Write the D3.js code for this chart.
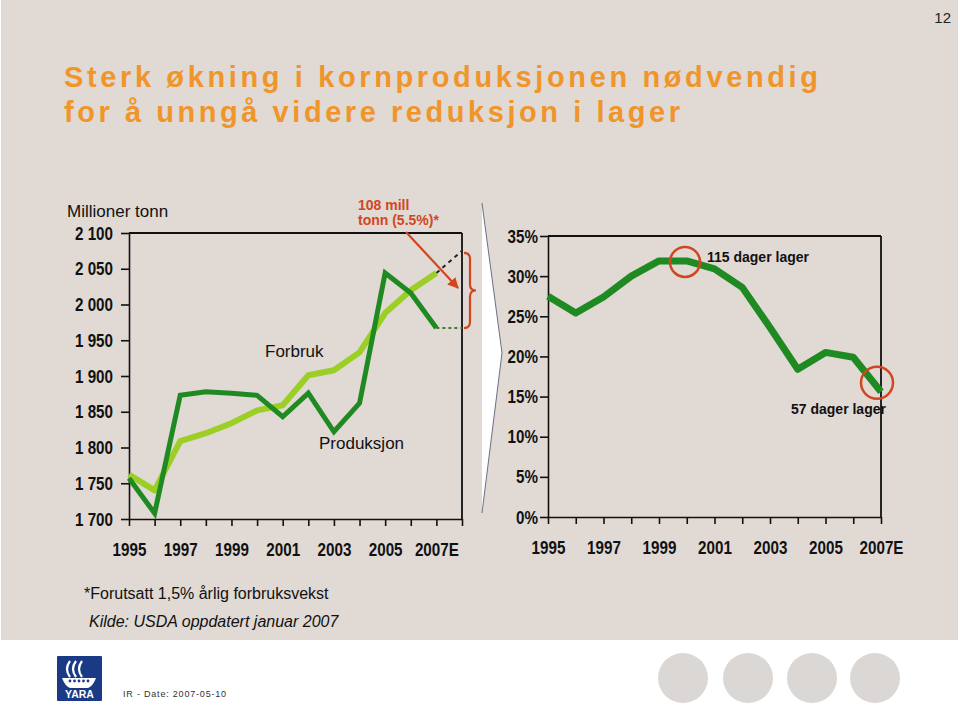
<!DOCTYPE html>
<html><head><meta charset="utf-8">
<script src="https://cdn.jsdelivr.net/npm/d3@7"></script>
<style>
html,body{margin:0;padding:0;background:#fff;}
svg{display:block;}
.ax text{font-family:"Liberation Sans",Arial,sans-serif;font-weight:bold;font-size:19px;fill:#111;}
.ax line,.ax path{stroke:#111;stroke-width:1.6;}
</style></head><body>
<script>
// ---------- DATA ----------
const years = [1995,1996,1997,1998,1999,2000,2001,2002,2003,2004,2005,2006,2007];
const yearLabels = ["1995","1997","1999","2001","2003","2005","2007E"];
const labelYears = [1995,1997,1999,2001,2003,2005,2007];
const production  = [1757,1708,1873,1878,1876,1873,1843,1876,1822,1862,2044,2016,1967];
const consumption = [1762,1740,1809,1820,1834,1852,1859,1901,1908,1933,1988,2020,2044];
const projYears = [2007,2008];
const consumptionProj = [2044,2075];
const productionProj  = [1967,1967];
const leftTicks = [1700,1750,1800,1850,1900,1950,2000,2050,2100];
const leftTickLabels = ["1 700","1 750","1 800","1 850","1 900","1 950","2 000","2 050","2 100"];
const stockRatio = [27.5,25.4,27.4,30.0,31.9,31.9,30.9,28.6,23.6,18.4,20.5,19.9,15.6];
const rightTicks = [0,5,10,15,20,25,30,35];
const rightTickLabels = ["0%","5%","10%","15%","20%","25%","30%","35%"];

const W=960,H=718;
const svg=d3.select("body").append("svg").attr("width",W).attr("height",H);

// condense axis labels (narrow bold look)
function condense(sel){
  sel.selectAll(".tick text").each(function(){
    const t=d3.select(this); if(!t.text()) return;
    const w=this.getComputedTextLength();
    t.attr("textLength",w*0.8).attr("lengthAdjust","spacingAndGlyphs");
  });
}

// background
svg.append("rect").attr("x",0).attr("y",0).attr("width",W).attr("height",H).attr("fill","#fff");
svg.append("rect").attr("x",1).attr("y",0).attr("width",957).attr("height",640).attr("fill","#e0d9d4");

// page number
svg.append("text").attr("x",951).attr("y",23).attr("text-anchor","end")
  .style("font-family","Liberation Sans,Arial,sans-serif").style("font-size","15px").attr("fill","#222").text("12");

// title
const tStyle = s=>s.style("font-family","Liberation Sans,Arial,sans-serif").style("font-weight","bold")
  .style("font-size","29px").attr("fill","#f0952a").attr("lengthAdjust","spacing");
tStyle(svg.append("text").attr("x",64).attr("y",87).attr("textLength",754)).text("Sterk økning i kornproduksjonen nødvendig");
tStyle(svg.append("text").attr("x",64).attr("y",122).attr("textLength",616)).text("for å unngå videre reduksjon i lager");

// ---------- LEFT CHART ----------
const xL=d3.scaleLinear().domain([1995,2008]).range([129,462]);
const yL=d3.scaleLinear().domain([1700,2100]).range([519,233]);

const gL=svg.append("g");
gL.append("line").attr("x1",xL(1995)).attr("x2",xL(2008)).attr("y1",yL(2100)).attr("y2",yL(2100)).attr("stroke","#111").attr("stroke-width",1.8);
gL.append("line").attr("x1",xL(2008)).attr("x2",xL(2008)).attr("y1",yL(2100)).attr("y2",yL(1700)).attr("stroke","#111").attr("stroke-width",1.8);

const axLeft=d3.axisLeft(yL).tickValues(leftTicks).tickSizeInner(8).tickSizeOuter(0).tickPadding(8)
  .tickFormat((d,i)=>leftTickLabels[i]);
gL.append("g").attr("class","ax").attr("transform",`translate(${xL(1995)},0)`).call(axLeft).call(condense);

const axBotL=d3.axisBottom(xL).tickValues(d3.range(1995,2009)).tickSizeInner(7).tickSizeOuter(0).tickPadding(17)
  .tickFormat(d=>{const i=labelYears.indexOf(d);return i>=0?yearLabels[i]:"";});
gL.append("g").attr("class","ax").attr("transform",`translate(0,${yL(1700)})`).call(axBotL).call(condense);

const lineL=d3.line().x(d=>xL(d[0])).y(d=>yL(d[1]));
gL.append("path").datum(projYears.map((y,i)=>[y,consumptionProj[i]])).attr("d",lineL)
  .attr("fill","none").attr("stroke","#222").attr("stroke-width",2).attr("stroke-dasharray","4,4");
gL.append("path").datum(projYears.map((y,i)=>[y,productionProj[i]])).attr("d",lineL)
  .attr("fill","none").attr("stroke","#3a7a3a").attr("stroke-width",2).attr("stroke-dasharray","3,3");

gL.append("path").datum(years.map((y,i)=>[y,consumption[i]])).attr("d",lineL)
  .attr("fill","none").attr("stroke","#9ccf26").attr("stroke-width",6).attr("stroke-linejoin","round");
gL.append("path").datum(years.map((y,i)=>[y,production[i]])).attr("d",lineL)
  .attr("fill","none").attr("stroke","#1f8a22").attr("stroke-width",5).attr("stroke-linejoin","miter");

const lblStyle=s=>s.style("font-family","Liberation Sans,Arial,sans-serif").style("font-size","17px").attr("fill","#111");
lblStyle(svg.append("text").attr("x",67).attr("y",217)).text("Millioner tonn");
lblStyle(svg.append("text").attr("x",265).attr("y",357)).text("Forbruk");
lblStyle(svg.append("text").attr("x",319).attr("y",449)).text("Produksjon");

// red annotation
const red="#d2461f";
const aStyle=s=>s.style("font-family","Liberation Sans,Arial,sans-serif").style("font-weight","bold").style("font-size","14px").attr("fill",red);
aStyle(svg.append("text").attr("x",358).attr("y",210)).text("108 mill");
aStyle(svg.append("text").attr("x",358).attr("y",225)).text("tonn (5.5%)*");
svg.append("defs").append("marker").attr("id","ah").attr("viewBox","0 0 10 10").attr("refX",9).attr("refY",5)
  .attr("markerWidth",5).attr("markerHeight",5).attr("orient","auto")
  .append("path").attr("d","M0,0 L10,5 L0,10 z").attr("fill",red);
svg.append("line").attr("x1",406).attr("y1",232).attr("x2",458).attr("y2",288)
  .attr("stroke",red).attr("stroke-width",2.2).attr("marker-end","url(#ah)");
{
  const yt=yL(consumptionProj[1])+2, yb=yL(productionProj[1]), ym=(yt+yb)/2, x0=xL(2008)+2;
  svg.append("path").attr("d",
    `M${x0},${yt} Q${x0+6},${yt} ${x0+6},${yt+6} L${x0+6},${ym-6} Q${x0+6},${ym} ${x0+12},${ym} Q${x0+6},${ym} ${x0+6},${ym+6} L${x0+6},${yb-6} Q${x0+6},${yb} ${x0},${yb}`)
    .attr("fill","none").attr("stroke",red).attr("stroke-width",2.2);
}

// white wedge
svg.append("path").attr("d","M482,203 L502,353 L482,513 Z").attr("fill","#fff").attr("stroke","none");
svg.append("path").attr("d","M482,203 L502,353 L482,513").attr("fill","none").attr("stroke","#6a6f86").attr("stroke-width",1);

// ---------- RIGHT CHART ----------
const xR=d3.scaleLinear().domain([1995,2007]).range([548,881]);
const yR=d3.scaleLinear().domain([0,35]).range([517,236]);
const gR=svg.append("g");
gR.append("line").attr("x1",xR(1995)).attr("x2",xR(2007)).attr("y1",yR(35)).attr("y2",yR(35)).attr("stroke","#111").attr("stroke-width",1.8);
gR.append("line").attr("x1",xR(2007)).attr("x2",xR(2007)).attr("y1",yR(35)).attr("y2",yR(0)).attr("stroke","#111").attr("stroke-width",1.8);
const axR=d3.axisLeft(yR).tickValues(rightTicks).tickSizeInner(8).tickSizeOuter(0).tickPadding(2)
  .tickFormat((d,i)=>rightTickLabels[i]);
gR.append("g").attr("class","ax").attr("transform",`translate(${xR(1995)},0)`).call(axR).call(condense);
const axBotR=d3.axisBottom(xR).tickValues(years).tickSizeInner(7).tickSizeOuter(0).tickPadding(17)
  .tickFormat(d=>{const i=labelYears.indexOf(d);return i>=0?yearLabels[i]:"";});
gR.append("g").attr("class","ax").attr("transform",`translate(0,${yR(0)})`).call(axBotR).call(condense);

const lineR=d3.line().x((d,i)=>xR(years[i])).y(d=>yR(d));
gR.append("path").datum(stockRatio).attr("d",lineR).attr("fill","none").attr("stroke","#1f8a22")
  .attr("stroke-width",7).attr("stroke-linejoin","round");

gR.append("circle").attr("cx",xR(1999)+26).attr("cy",yR(stockRatio[5])+1).attr("r",15)
  .attr("fill","none").attr("stroke",red).attr("stroke-width",2.5);
gR.append("circle").attr("cx",xR(2007)-4).attr("cy",yR(stockRatio[12])-9).attr("r",16)
  .attr("fill","none").attr("stroke",red).attr("stroke-width",2.5);
const bStyle=s=>s.style("font-family","Liberation Sans,Arial,sans-serif").style("font-weight","bold").style("font-size","14px").attr("fill","#111");
bStyle(svg.append("text").attr("x",707).attr("y",262)).text("115 dager lager");
bStyle(svg.append("text").attr("x",791).attr("y",414)).text("57 dager lager");

// footnotes
lblStyle(svg.append("text").attr("x",84).attr("y",599)).style("font-size","16px").text("*Forutsatt 1,5% årlig forbruksvekst");
lblStyle(svg.append("text").attr("x",89).attr("y",627)).style("font-size","16px").style("font-style","italic").text("Kilde: USDA oppdatert januar 2007");

// ---------- FOOTER ----------
const logo=svg.append("g");
logo.append("rect").attr("x",57).attr("y",656).attr("width",45).attr("height",45).attr("rx",1).attr("fill","#1b3a86");
[0,1,2].forEach(i=>{
  logo.append("path").attr("d",`M${70+i*6},661 Q${64+i*6},669 ${70+i*6},677`).attr("fill","none").attr("stroke","#fff").attr("stroke-width",2.2);
});
logo.append("path").attr("d","M62,678 L96,678 Q93,686 88,688 L70,688 Q65,686 62,678 Z").attr("fill","#fff");
[0,1,2,3,4].forEach(i=>logo.append("circle").attr("cx",70+i*4.5).attr("cy",681).attr("r",1.4).attr("fill","#1b3a86"));
logo.append("text").attr("x",79.5).attr("y",698).attr("text-anchor","middle")
  .style("font-family","Liberation Sans,Arial,sans-serif").style("font-weight","bold").style("font-size","10.5px").attr("fill","#fff").text("YARA");
svg.append("text").attr("x",123).attr("y",697)
  .style("font-family","Liberation Sans,Arial,sans-serif").style("font-size","9px").style("letter-spacing","0.8px").attr("fill","#333").text("IR - Date: 2007-05-10");
[683,748,812,875].forEach(cx=>svg.append("circle").attr("cx",cx).attr("cy",678).attr("r",25).attr("fill","#dbd7d5"));
</script>
</body></html>
